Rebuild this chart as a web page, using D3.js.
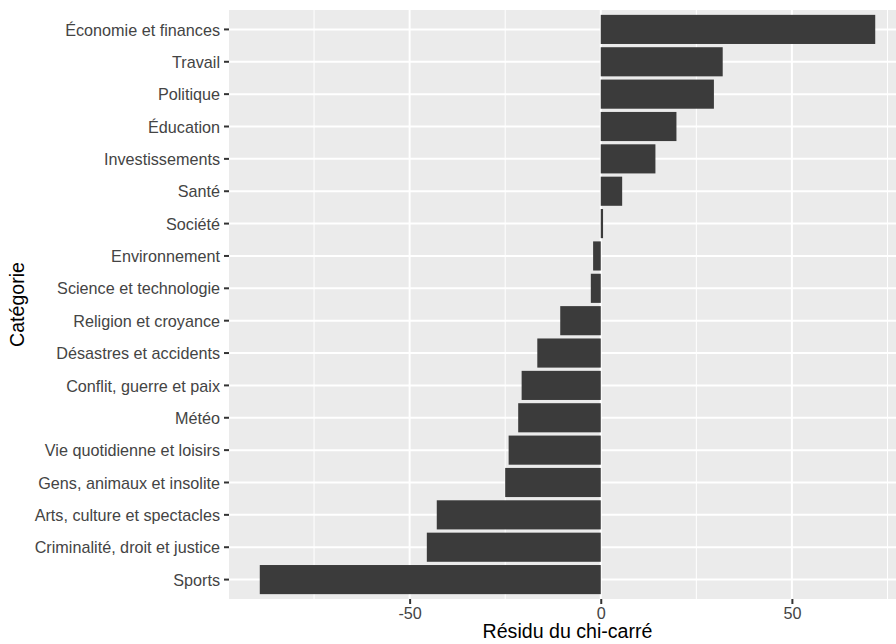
<!DOCTYPE html>
<html>
<head>
<meta charset="utf-8">
<script src="https://cdn.jsdelivr.net/npm/d3@7"></script>
<style>
  html, body { margin: 0; padding: 0; background: #fff; }
  svg { display: block; font-family: "Liberation Sans", Arimo, Arial, sans-serif; }
</style>
</head>
<body>
<svg id="chart" width="896" height="644"></svg>
<script>
const categories = [
  "Économie et finances", "Travail", "Politique", "Éducation", "Investissements",
  "Santé", "Société", "Environnement", "Science et technologie", "Religion et croyance",
  "Désastres et accidents", "Conflit, guerre et paix", "Météo", "Vie quotidienne et loisirs",
  "Gens, animaux et insolite", "Arts, culture et spectacles", "Criminalité, droit et justice", "Sports"
];
const residuals = [
  71.8, 31.9, 29.6, 19.8, 14.3,
  5.6, 0.6, -2.0, -2.6, -10.6,
  -16.6, -20.7, -21.6, -24.1,
  -25.0, -42.9, -45.5, -89.2
];
const xTicks = [-50, 0, 50];
const xMinor = [-75, -25, 25, 75];
const xTitle = "Résidu du chi-carré";
const yTitle = "Catégorie";

const svg = d3.select("#chart");
const panel = { left: 229, right: 906, top: 10, bottom: 599 };

const lo = d3.min(residuals), hi = d3.max(residuals);
const pad = (hi - lo) * 0.05;
const x = d3.scaleLinear().domain([lo - pad, hi + pad]).range([panel.left, panel.right]);
const y = d3.scaleBand().domain(categories).range([panel.top, panel.bottom])
  .paddingInner(0.1).paddingOuter(0.15);

svg.append("rect")
  .attr("x", panel.left).attr("y", panel.top)
  .attr("width", panel.right - panel.left).attr("height", panel.bottom - panel.top)
  .attr("fill", "#EBEBEB");

svg.append("g").selectAll("line").data(xMinor).join("line")
  .attr("x1", d => x(d)).attr("x2", d => x(d))
  .attr("y1", panel.top).attr("y2", panel.bottom)
  .attr("stroke", "#fff").attr("stroke-width", 1);

svg.append("g").selectAll("line").data(xTicks).join("line")
  .attr("x1", d => x(d)).attr("x2", d => x(d))
  .attr("y1", panel.top).attr("y2", panel.bottom)
  .attr("stroke", "#fff").attr("stroke-width", 2);

svg.append("g").selectAll("line").data(categories).join("line")
  .attr("x1", panel.left).attr("x2", panel.right)
  .attr("y1", d => y(d) + y.bandwidth() / 2).attr("y2", d => y(d) + y.bandwidth() / 2)
  .attr("stroke", "#fff").attr("stroke-width", 2);

svg.append("g").selectAll("rect").data(categories).join("rect")
  .attr("x", (d, i) => x(Math.min(0, residuals[i])))
  .attr("width", (d, i) => Math.abs(x(residuals[i]) - x(0)))
  .attr("y", d => y(d))
  .attr("height", y.bandwidth())
  .attr("fill", "#3b3b3b");

const yAxis = d3.axisLeft(y).tickSize(5).tickPadding(4);
const gy = svg.append("g").attr("transform", `translate(${panel.left},0)`).call(yAxis);
gy.select(".domain").remove();
gy.selectAll(".tick line").attr("stroke", "#333").attr("stroke-width", 2);
gy.selectAll(".tick text").attr("fill", "#444").attr("dy", "0.38em").style("font-size", "16.2px")
  .style("font-family", "'Liberation Sans', Arimo, Arial, sans-serif");

const xAxis = d3.axisBottom(x).tickValues(xTicks).tickSize(5).tickPadding(3).tickFormat(d3.format("d"));
const gx = svg.append("g").attr("transform", `translate(0,${panel.bottom})`).call(xAxis);
gx.select(".domain").remove();
gx.selectAll(".tick line").attr("stroke", "#333").attr("stroke-width", 2);
gx.selectAll(".tick text").attr("fill", "#444").style("font-size", "16.2px")
  .style("font-family", "'Liberation Sans', Arimo, Arial, sans-serif")
  .text(d => d < 0 ? "-" + Math.abs(d) : String(d));

svg.append("text")
  .attr("x", (panel.left + panel.right) / 2).attr("y", 638)
  .attr("text-anchor", "middle").attr("fill", "#000")
  .style("font-size", "19.6px").text(xTitle);

svg.append("text")
  .attr("transform", `translate(24,${(panel.top + panel.bottom) / 2}) rotate(-90)`)
  .attr("text-anchor", "middle").attr("fill", "#000")
  .style("font-size", "19.6px").text(yTitle);
</script>
</body>
</html>
